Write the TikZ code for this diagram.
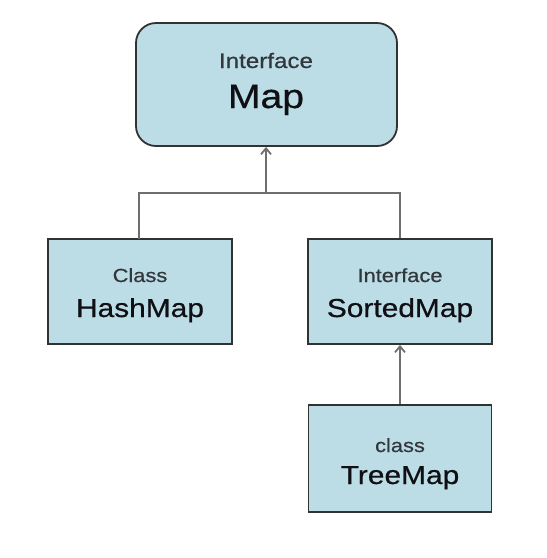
\documentclass[tikz,border=0pt]{standalone}
\usepackage{fontspec}
\setmainfont[FakeStretch=1.15,FakeBold=0.6]{Liberation Sans}
\usetikzlibrary{arrows.meta}
\definecolor{boxfill}{RGB}{188,221,230}
\definecolor{boxline}{RGB}{50,50,50}
\definecolor{connline}{RGB}{110,110,110}
\definecolor{smalltxt}{RGB}{50,55,60}
\definecolor{bigtxt}{RGB}{15,15,20}
\begin{document}
\begin{tikzpicture}[x=1pt,y=-1pt,
  box/.style={draw=boxline, fill=boxfill, line width=1.8pt, inner sep=0pt},
  kind/.style={anchor=base, inner sep=0pt, text=smalltxt, font=\fontsize{19}{19}\selectfont},
  title/.style={anchor=base, inner sep=0pt, text=bigtxt, font=\fontsize{26}{26}\selectfont},
  conn/.style={draw=connline, line width=1.9pt},
  arr/.style={conn, -{Straight Barb[length=6pt,width=10pt,line width=1.8pt]}}
]
\useasboundingbox (0,0) rectangle (547,558);
\fill[white] (0,0) rectangle (547,558);

\node[box, rounded corners=20pt, minimum width=261pt, minimum height=123pt] (map) at (266.5,84.5) {};
\node[box, minimum width=184pt, minimum height=105pt] (hash) at (140,291.5) {};
\node[box, minimum width=184pt, minimum height=105pt] (sorted) at (400,291.5) {};
\node[box, minimum width=183pt, minimum height=107pt] (tree) at (400,458.5) {};

\node[kind, font=\fontsize{21}{21}\selectfont] (mapk) at (266,68) {Interface};
\node[title, font=\fontsize{34}{34}\selectfont] (mapt) at (266,108) {Map};
\node[kind] (hashk) at (140,282) {Class};
\node[title] (hasht) at (140,317) {HashMap};
\node[kind] (sortedk) at (400,282) {Interface};
\node[title] (sortedt) at (400,317) {SortedMap};
\node[kind] (treek) at (400,452) {class};
\node[title] (treet) at (400,484) {TreeMap};

\coordinate (j) at (266,193);
\coordinate (hl) at (139,239);
\draw[conn] (hl) |- (j) -| (sorted.north);
\draw[arr] (j) -- (map.south -| j);
\draw[arr] (tree.north) -- (sorted.south);
\end{tikzpicture}
\end{document}
